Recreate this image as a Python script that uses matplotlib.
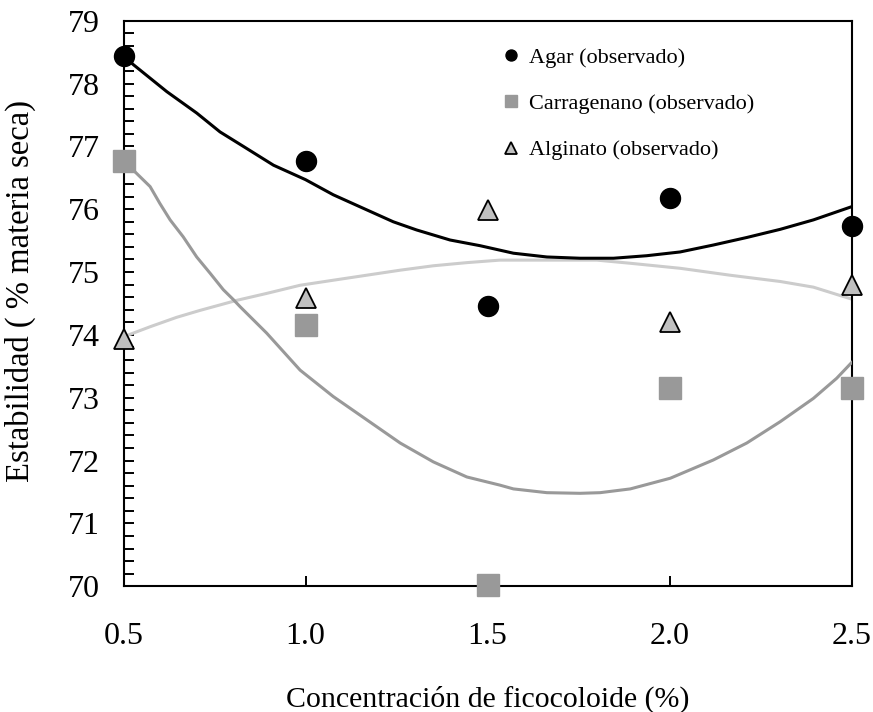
import matplotlib
matplotlib.use("Agg")
import matplotlib.pyplot as plt
from matplotlib.ticker import MultipleLocator, FixedLocator

plt.rcParams["font.family"] = ["Liberation Serif", "DejaVu Serif"]

# ── observed values ───────────────────────────────────────────────────────────
conc = [0.5, 1.0, 1.5, 2.0, 2.5]
agar_obs = [78.44, 76.76, 74.46, 76.18, 75.74]
carr_obs = [76.77, 74.16, 70.02, 73.15, 73.15]
algi_obs = [73.93, 74.58, 75.98, 74.21, 74.80]

# ── fitted curves ─────────────────────────────────────────────────────────────
agar_fit_x = [0.5, 0.527, 0.619, 0.701, 0.765, 0.829, 0.912, 1.0, 1.076, 1.168,
              1.241, 1.305, 1.397, 1.479, 1.571, 1.663, 1.754, 1.846, 1.937,
              2.029, 2.120, 2.212, 2.304, 2.395, 2.5]
agar_fit_y = [78.44, 78.30, 77.87, 77.53, 77.23, 77.00, 76.70, 76.47, 76.23, 75.99,
              75.80, 75.67, 75.51, 75.42, 75.30, 75.24, 75.22, 75.22, 75.26,
              75.32, 75.43, 75.55, 75.68, 75.83, 76.04]

carr_fit_x = [0.5, 0.527, 0.573, 0.600, 0.628, 0.664, 0.701, 0.738, 0.774, 0.802,
              0.820, 0.893, 0.985, 1.076, 1.168, 1.260, 1.351, 1.443, 1.534,
              1.571, 1.663, 1.754, 1.809, 1.892, 2.002, 2.120, 2.212, 2.304,
              2.395, 2.459, 2.5]
carr_fit_y = [76.77, 76.62, 76.36, 76.09, 75.83, 75.56, 75.24, 74.98, 74.72, 74.56,
              74.45, 74.03, 73.44, 73.02, 72.65, 72.28, 71.98, 71.74, 71.61,
              71.55, 71.49, 71.48, 71.49, 71.55, 71.72, 72.01, 72.28, 72.62,
              72.99, 73.31, 73.56]

algi_fit_x = [0.5, 0.573, 0.646, 0.710, 0.811, 0.893, 0.985, 1.076, 1.168, 1.260,
              1.351, 1.443, 1.534, 1.663, 1.800, 1.892, 2.029, 2.166, 2.304,
              2.395, 2.5]
algi_fit_y = [73.97, 74.13, 74.28, 74.39, 74.55, 74.66, 74.79, 74.87, 74.95, 75.03,
              75.10, 75.15, 75.19, 75.19, 75.19, 75.14, 75.06, 74.95, 74.85,
              74.76, 74.57]

labels = ["Agar (observado)", "Carragenano (observado)", "Alginato (observado)"]

fig = plt.figure(figsize=(8.73, 7.12), dpi=100)
ax = fig.add_axes([0.1415, 0.1765, 0.834, 0.7945])

ax.plot(algi_fit_x, algi_fit_y, color="#cccccc", lw=2.2, zorder=2)
ax.plot(carr_fit_x, carr_fit_y, color="#999999", lw=2.2, zorder=3)
ax.plot(agar_fit_x, agar_fit_y, color="black", lw=2.2, zorder=4)

ax.plot(conc, agar_obs, "o", color="black", ms=14.4, ls="none",
        clip_on=False, zorder=6, label=labels[0])
ax.plot(conc, carr_obs, "s", color="#999999", ms=15.6, ls="none",
        clip_on=False, zorder=6, label=labels[1])
ax.plot(conc, algi_obs, "^", mfc="#c0c0c0", mec="black", mew=1.3, ms=14.4,
        ls="none", clip_on=False, zorder=6, label=labels[2])

ax.set_xlim(0.5, 2.5)
ax.set_ylim(70, 79)
ax.xaxis.set_major_locator(FixedLocator(conc))
ax.set_xticklabels([f"{v:.1f}" for v in conc])
ax.yaxis.set_major_locator(MultipleLocator(1))
ax.yaxis.set_minor_locator(MultipleLocator(0.2))

ax.tick_params(axis="both", which="both", direction="in", length=7.2, width=1.4,
               top=False, right=False, labelsize=23)
ax.tick_params(axis="x", pad=26)
ax.tick_params(axis="y", pad=17)
for s in ax.spines.values():
    s.set_linewidth(1.5)

ax.set_xlabel("Concentración de ficocoloide (%)", fontsize=21.5)
ax.set_ylabel("Estabilidad ( % materia seca)", fontsize=23.5)
ax.xaxis.set_label_coords(0.5, -0.175)
ax.yaxis.set_label_coords(-0.12, 0.522)

ax.legend(loc="upper left", bbox_to_anchor=(0.52, 0.953), frameon=False,
          fontsize=16, markerscale=0.55, handlelength=0.8, handletextpad=0.4,
          labelspacing=1.16, borderpad=0, borderaxespad=0)

fig.savefig("out.png", dpi=100)
